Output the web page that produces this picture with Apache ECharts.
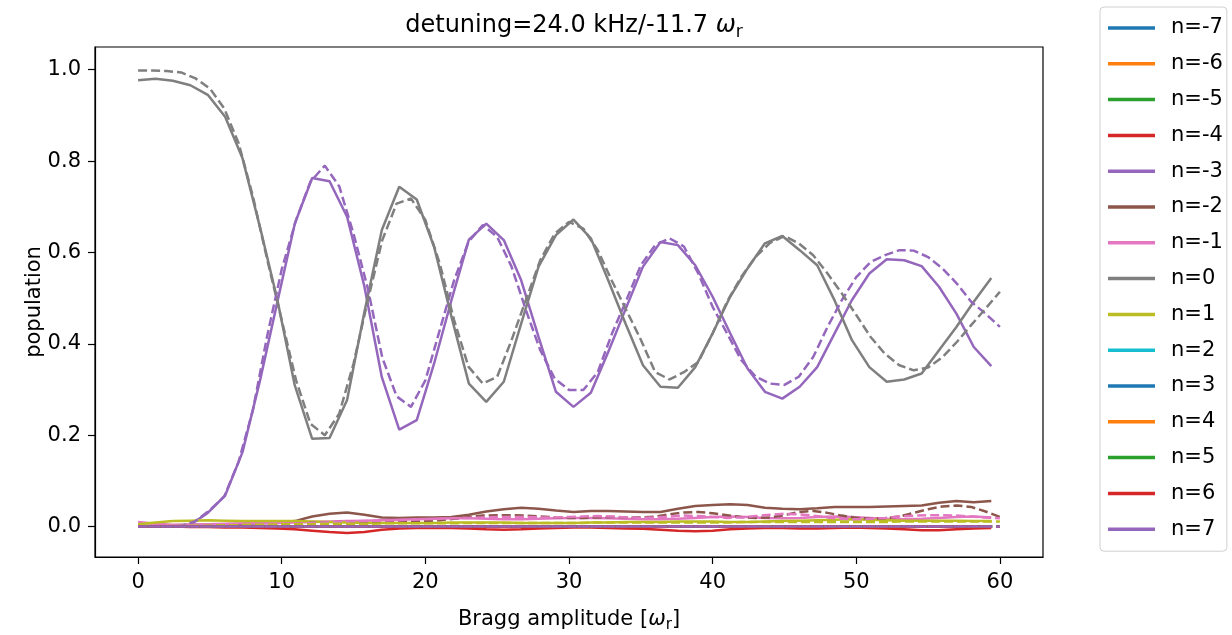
<!DOCTYPE html>
<html>
<head>
<meta charset="utf-8">
<script src="https://cdn.jsdelivr.net/npm/echarts@6/dist/echarts.min.js"></script>
<style>
  html, body { margin: 0; padding: 0; background: #fff; }
  #chart { width: 1232px; height: 635px; }
</style>
</head>
<body>
<div id="chart"></div>
<script>
// measured points (solid) and simulation (dashed)
var xExp = [0.00,1.21,2.42,3.64,4.85,6.06,7.27,8.49,9.70,10.91,
  12.12,13.33,14.55,15.76,16.97,18.18,19.40,20.61,21.82,23.03,
  24.24,25.46,26.67,27.88,29.09,30.31,31.52,32.73,33.94,35.15,
  36.37,37.58,38.79,40.00,41.22,42.43,43.64,44.85,46.06,47.28,
  48.49,49.70,50.91,52.12,53.34,54.55,55.76,56.97,58.18,59.40];
var xTh = [0,1,2,3,4,5,6,7,8,9,
  10,11,12,13,14,15,16,17,18,19,
  20,21,22,23,24,25,26,27,28,29,
  30,31,32,33,34,35,36,37,38,39,
  40,41,42,43,44,45,46,47,48,49,
  50,51,52,53,54,55,56,57,58,59,60];
var flatExpX = [0, 59.4];
var flatThX = [0, 60];
var flatY = [0, 0];

var n0Exp = [0.977,0.980,0.976,0.966,0.945,0.897,0.806,0.655,0.496,0.309,
  0.192,0.194,0.277,0.470,0.649,0.744,0.716,0.612,0.459,0.313,
  0.273,0.317,0.444,0.569,0.638,0.672,0.631,0.539,0.444,0.353,
  0.306,0.304,0.349,0.423,0.503,0.565,0.620,0.636,0.605,0.572,
  0.495,0.408,0.349,0.317,0.322,0.335,0.386,0.437,0.492,0.544];
var nm3Exp = [0.000,0.000,0.001,0.004,0.030,0.068,0.163,0.320,0.492,0.663,
  0.763,0.756,0.678,0.525,0.327,0.212,0.233,0.357,0.496,0.628,
  0.663,0.627,0.539,0.415,0.295,0.262,0.293,0.382,0.476,0.569,
  0.623,0.616,0.572,0.503,0.423,0.346,0.295,0.280,0.306,0.349,
  0.423,0.496,0.554,0.585,0.583,0.570,0.525,0.466,0.393,0.351];
var nm2Exp = [0.002,0.002,0.003,0.004,0.004,0.005,0.006,0.007,0.008,0.012,
  0.022,0.028,0.031,0.026,0.020,0.019,0.020,0.020,0.021,0.026,
  0.033,0.038,0.041,0.039,0.035,0.032,0.034,0.034,0.033,0.032,
  0.032,0.039,0.045,0.047,0.049,0.047,0.041,0.039,0.038,0.040,
  0.043,0.043,0.043,0.044,0.045,0.046,0.052,0.056,0.053,0.056];
var nm1Exp = [0.010,0.006,0.004,0.004,0.005,0.006,0.007,0.008,0.008,0.009,
  0.010,0.011,0.012,0.013,0.014,0.015,0.016,0.017,0.018,0.018,
  0.017,0.016,0.016,0.017,0.018,0.019,0.019,0.018,0.017,0.016,
  0.016,0.017,0.019,0.021,0.022,0.021,0.019,0.018,0.019,0.021,
  0.022,0.021,0.019,0.017,0.016,0.017,0.019,0.021,0.022,0.020];
var n1Exp = [0.005,0.009,0.012,0.013,0.014,0.013,0.012,0.012,0.012,0.012,
  0.011,0.010,0.009,0.008,0.008,0.008,0.008,0.008,0.009,0.009,
  0.009,0.009,0.008,0.008,0.008,0.008,0.009,0.009,0.010,0.010,
  0.010,0.011,0.011,0.011,0.010,0.010,0.011,0.012,0.013,0.014,
  0.015,0.016,0.015,0.014,0.013,0.013,0.013,0.013,0.012,0.012];
var nm4Exp = [0.000,0.000,0.000,-0.001,-0.001,-0.002,-0.002,-0.003,-0.004,-0.006,
  -0.009,-0.012,-0.014,-0.012,-0.007,-0.004,-0.003,-0.003,-0.003,-0.004,
  -0.006,-0.007,-0.006,-0.004,-0.003,-0.002,-0.002,-0.003,-0.004,-0.005,
  -0.007,-0.009,-0.010,-0.009,-0.006,-0.004,-0.003,-0.003,-0.004,-0.004,
  -0.003,-0.002,-0.003,-0.004,-0.006,-0.008,-0.008,-0.006,-0.004,-0.003];

var n0Th = [0.998,0.998,0.997,0.994,0.981,0.959,0.915,0.839,0.722,0.583,
  0.452,0.320,0.225,0.200,0.247,0.357,0.496,0.627,0.707,0.718,
  0.671,0.576,0.452,0.350,0.313,0.328,0.408,0.496,0.583,0.641,
  0.667,0.652,0.605,0.537,0.473,0.409,0.338,0.322,0.338,0.360,
  0.423,0.492,0.547,0.591,0.621,0.636,0.620,0.594,0.554,0.510,
  0.463,0.415,0.378,0.353,0.342,0.348,0.371,0.404,0.441,0.477,0.514];
var nm3Th = [0.000,0.000,0.000,0.001,0.012,0.036,0.066,0.142,0.256,0.419,
  0.563,0.671,0.755,0.790,0.745,0.641,0.520,0.370,0.285,0.262,
  0.320,0.430,0.539,0.623,0.660,0.634,0.569,0.474,0.386,0.324,
  0.299,0.299,0.338,0.423,0.496,0.572,0.616,0.631,0.613,0.554,
  0.481,0.423,0.364,0.328,0.313,0.310,0.328,0.371,0.437,0.496,
  0.546,0.579,0.594,0.605,0.604,0.590,0.565,0.532,0.492,0.466,0.437];
var nm2Th = [0.000,0.000,0.000,0.000,0.000,0.001,0.001,0.002,0.003,0.004,
  0.005,0.006,0.008,0.009,0.010,0.010,0.010,0.010,0.010,0.011,
  0.012,0.014,0.017,0.021,0.024,0.025,0.025,0.024,0.022,0.020,
  0.019,0.019,0.020,0.021,0.020,0.020,0.022,0.027,0.031,0.032,
  0.029,0.025,0.021,0.019,0.020,0.025,0.032,0.034,0.030,0.024,
  0.019,0.017,0.018,0.022,0.030,0.038,0.044,0.046,0.043,0.033,0.021];
var nm1Th = [0.000,0.000,0.000,0.000,0.001,0.001,0.002,0.003,0.004,0.005,
  0.006,0.007,0.008,0.009,0.010,0.011,0.012,0.013,0.014,0.015,
  0.016,0.017,0.018,0.019,0.020,0.021,0.021,0.021,0.020,0.020,
  0.021,0.022,0.023,0.022,0.020,0.019,0.020,0.022,0.024,0.023,
  0.021,0.019,0.020,0.023,0.026,0.028,0.027,0.024,0.020,0.017,
  0.016,0.017,0.019,0.022,0.024,0.025,0.025,0.024,0.022,0.020,0.018];
var n1Th = [0.000,0.000,0.001,0.001,0.002,0.002,0.003,0.003,0.004,0.004,
  0.005,0.005,0.005,0.006,0.006,0.006,0.006,0.007,0.007,0.007,
  0.007,0.007,0.007,0.008,0.008,0.008,0.008,0.008,0.008,0.008,
  0.008,0.008,0.009,0.009,0.009,0.009,0.009,0.009,0.009,0.009,
  0.009,0.009,0.010,0.010,0.010,0.010,0.010,0.010,0.010,0.010,
  0.010,0.010,0.010,0.011,0.011,0.011,0.011,0.011,0.011,0.011,0.011];

var names = ['n=-7','n=-6','n=-5','n=-4','n=-3','n=-2','n=-1','n=0','n=1','n=2','n=3','n=4','n=5','n=6','n=7'];
var colors = ['#1f77b4','#ff7f0e','#2ca02c','#d62728','#9467bd','#8c564b','#e377c2','#7f7f7f','#bcbd22','#17becf','#1f77b4','#ff7f0e','#2ca02c','#d62728','#9467bd'];
var xTicks = [0, 10, 20, 30, 40, 50, 60];
var yTicks = [0, 0.2, 0.4, 0.6, 0.8, 1.0];

var expCurves = [
  [flatExpX, flatY], [flatExpX, flatY], [flatExpX, flatY], [xExp, nm4Exp],
  [xExp, nm3Exp], [xExp, nm2Exp], [xExp, nm1Exp], [xExp, n0Exp], [xExp, n1Exp],
  [flatExpX, flatY], [flatExpX, flatY], [flatExpX, flatY], [flatExpX, flatY], [flatExpX, flatY], [flatExpX, flatY]
];
var thCurves = [
  [flatThX, flatY], [flatThX, flatY], [flatThX, flatY], [flatThX, flatY],
  [xTh, nm3Th], [xTh, nm2Th], [xTh, nm1Th], [xTh, n0Th], [xTh, n1Th],
  [flatThX, flatY], [flatThX, flatY], [flatThX, flatY], [flatThX, flatY], [flatThX, flatY], [flatThX, flatY]
];

function zip(xs, ys) {
  return xs.map(function (x, i) { return [x, ys[i]]; });
}

var font = 'DejaVu Sans';
var series = [];
names.forEach(function (name, i) {
  series.push({
    name: name, type: 'line', data: zip(expCurves[i][0], expCurves[i][1]),
    symbol: 'none', showSymbol: false, silent: true, color: colors[i],
    lineStyle: { color: colors[i], width: 2.5 }
  });
});
names.forEach(function (name, i) {
  series.push({
    name: name + ' theory', type: 'line', data: zip(thCurves[i][0], thCurves[i][1]),
    symbol: 'none', showSymbol: false, silent: true, color: colors[i],
    lineStyle: { color: colors[i], width: 2.5, type: [9, 4] }
  });
});

var option = {
  animation: false,
  backgroundColor: '#fff',
  title: {
    text: '{a|detuning=24.0 kHz/-11.7 }{w|ω}{r|r}',
    left: 569, top: 6, textAlign: 'center',
    textStyle: {
      fontWeight: 'normal',
      rich: {
        a: { fontSize: 24, fontFamily: font, fontWeight: 'normal', color: '#000', lineHeight: 30 },
        w: { fontSize: 24, fontFamily: font, fontWeight: 'normal', color: '#000', fontStyle: 'italic', lineHeight: 30 },
        r: { fontSize: 17, fontFamily: font, fontWeight: 'normal', color: '#000', lineHeight: 14, verticalAlign: 'bottom' }
      }
    }
  },
  legend: {
    orient: 'vertical', left: 1100, top: 7,
    data: names, selectedMode: false,
    icon: 'rect', itemWidth: 47, itemHeight: 3.5, itemGap: 13.8,
    padding: [10, 4, 11, 8],
    borderColor: '#d0d0d0', borderWidth: 1, borderRadius: 4,
    textStyle: { fontSize: 21, fontFamily: font, color: '#000', lineHeight: 22, padding: [0, 0, 0, 11] }
  },
  grid: {
    left: 95, right: 189, top: 47, bottom: 78,
    outerBoundsMode: 'none',
    show: true, borderColor: '#000', borderWidth: 1.2
  },
  xAxis: {
    type: 'value', min: -3, max: 63,
    name: '{a|Bragg amplitude [}{w|ω}{r|r}{a|]}',
    nameLocation: 'middle', nameGap: 50, nameMoveOverlap: false,
    nameTextStyle: {
      rich: {
        a: { fontSize: 21, fontFamily: font, color: '#000', lineHeight: 26 },
        w: { fontSize: 21, fontFamily: font, color: '#000', fontStyle: 'italic', lineHeight: 26 },
        r: { fontSize: 15, fontFamily: font, color: '#000', lineHeight: 12, verticalAlign: 'bottom' }
      }
    },
    axisLine: { onZero: false, lineStyle: { color: '#000', width: 1.2 } },
    axisTick: { length: 7, customValues: xTicks, lineStyle: { color: '#000', width: 1.2 } },
    axisLabel: { customValues: xTicks, fontSize: 21, fontFamily: font, color: '#000', margin: 15 },
    splitLine: { show: false }
  },
  yAxis: {
    type: 'value', min: -0.0666, max: 1.0497,
    name: 'population', nameLocation: 'middle', nameGap: 50, nameMoveOverlap: false,
    nameTextStyle: { fontSize: 21, fontFamily: font, color: '#000' },
    axisLine: { show: true, onZero: false, lineStyle: { color: '#000', width: 1.2 } },
    axisTick: { show: true, length: 7, customValues: yTicks, lineStyle: { color: '#000', width: 1.2 } },
    axisLabel: {
      customValues: yTicks, fontSize: 21, fontFamily: font, color: '#000', margin: 14,
      formatter: function (v) { return v.toFixed(1); }
    },
    splitLine: { show: false }
  },
  series: series
};

var myChart = echarts.init(document.getElementById('chart'));
myChart.setOption(option);
</script>
</body>
</html>
